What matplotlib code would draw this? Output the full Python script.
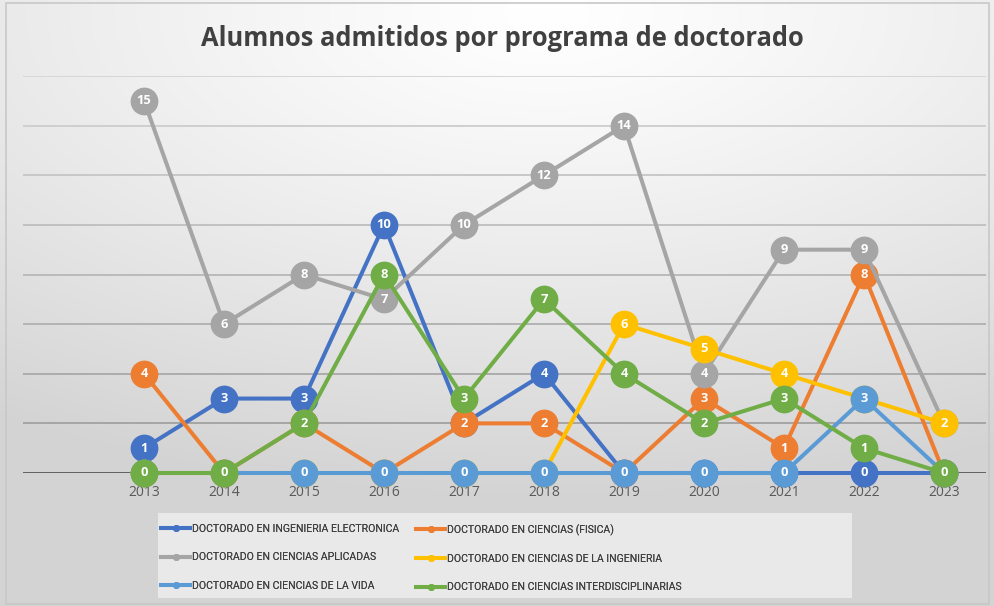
import numpy as np
import matplotlib
matplotlib.use("Agg")
import matplotlib.pyplot as plt
from matplotlib.lines import Line2D
from matplotlib.patches import Rectangle

years = ["2013", "2014", "2015", "2016", "2017", "2018", "2019", "2020", "2021", "2022", "2023"]
series_names = [
    "DOCTORADO EN INGENIERIA ELECTRONICA",
    "DOCTORADO EN CIENCIAS (FISICA)",
    "DOCTORADO EN CIENCIAS APLICADAS",
    "DOCTORADO EN CIENCIAS DE LA INGENIERIA",
    "DOCTORADO EN CIENCIAS DE LA VIDA",
    "DOCTORADO EN CIENCIAS INTERDISCIPLINARIAS",
]
electronica = [1, 3, 3, 10, 2, 4, 0, 0, 0, 0, 0]
fisica = [4, 0, 2, 0, 2, 2, 0, 3, 1, 8, 0]
aplicadas = [15, 6, 8, 7, 10, 12, 14, 4, 9, 9, 2]
ingenieria = [0, 0, 0, 0, 0, 0, 6, 5, 4, 3, 2]
vida = [0, 0, 0, 0, 0, 0, 0, 0, 0, 3, 0]
interdisciplinarias = [0, 0, 2, 8, 3, 7, 4, 2, 3, 1, 0]
series_values = [electronica, fisica, aplicadas, ingenieria, vida, interdisciplinarias]
colors = ["#4472C4", "#ED7D31", "#A5A5A5", "#FFC000", "#5B9BD5", "#70AD47"]
title = "Alumnos admitidos por programa de doctorado"

W, H = 995, 606
fig = plt.figure(figsize=(W / 100, H / 100), dpi=100)

# background radial gradient
bg = fig.add_axes([0, 0, 1, 1], zorder=-10)
yy, xx = np.mgrid[0:1:300j, 0:1:500j]
r = np.sqrt(((xx - 0.55) * 1.0) ** 2 + ((yy - 0.02) * 1.25) ** 2)
shade = 1.0 - 0.17 * np.clip(r / 1.0, 0, 1) ** 1.2
img = np.dstack([shade, shade, shade])
bg.imshow(img, aspect="auto", extent=[0, 1, 0, 1], origin="upper")
bg.set_xlim(0, 1)
bg.set_ylim(0, 1)
bg.axis("off")
bg.add_patch(Rectangle((6 / W, 2 / H), 1 - 12 / W, 1 - 5 / H, fill=False,
                       edgecolor="#C8C8C8", linewidth=1.2, transform=bg.transAxes))

left = 23 / W
right = 986 / W
y0 = (H - 473) / H
y16 = (H - 76) / H
ax = fig.add_axes([left, y0, right - left, y16 - y0])
ax.patch.set_alpha(0)
x = np.arange(len(years))
ax.set_xlim(-1.5125, len(years) - 1 + (986 - 944) / 80)
ax.set_ylim(0, 16)
for s in ax.spines.values():
    s.set_visible(False)
ax.set_yticks([])
ax.set_xticks(x)
ax.set_xticklabels(years, fontsize=10, color="#595959", family="Open Sans")
ax.tick_params(axis="x", length=0, pad=9)

# gridlines (slightly darker toward the bottom, as in reference)
levels = np.arange(2, 17, 2)
for lv in levels:
    t = lv / 16
    g = 0.62 + 0.22 * t
    ax.axhline(lv, color=(g, g, g), linewidth=1.4, zorder=0)
ax.axhline(0, color="#404040", linewidth=1.8, zorder=0.5)

for i, (vals, c) in enumerate(zip(series_values, colors)):
    z = 2 + i
    ax.plot(x, vals, color=c, linewidth=2.9, marker="o", markersize=20,
            markeredgewidth=0, clip_on=False, zorder=z, solid_capstyle="round")
    for xi, v in zip(x, vals):
        ax.text(xi, v, str(v), ha="center", va="center", color="white",
                fontsize=9.3, fontweight="bold", family="Open Sans", zorder=z + 0.5)

fig.text(0.505, 1 - 38 / H, title, ha="center", va="center", fontsize=18.4,
         fontweight="bold", color="#404040", family="Open Sans")

# legend box
lx0, lx1 = 158 / W, 852 / W
ly0, ly1 = (H - 598) / H, (H - 513) / H
bg.add_patch(Rectangle((lx0, ly0), lx1 - lx0, ly1 - ly0, facecolor="#EDEDED",
                       edgecolor="none", alpha=0.85, transform=bg.transAxes))

columns = [[0, 2, 4], [1, 3, 5]]
col_x = [161, 416]
for col, cx in zip(columns, col_x):
    handles = [Line2D([0], [0], color=colors[k], linewidth=2.9, marker="o", markersize=4)
               for k in col]
    labels = [series_names[k] for k in col]
    leg = fig.legend(handles, labels, ncol=1, loc="upper left",
                     bbox_to_anchor=(cx / W, 1 - 524 / H), frameon=False,
                     borderpad=0, borderaxespad=0,
                     handlelength=2.75, handletextpad=0.15,
                     labelspacing=1.75, labelcolor="#404040",
                     prop={"family": "Roboto", "size": 7.6})
    fig.add_artist(leg)

fig.savefig("out.png", dpi=100)
